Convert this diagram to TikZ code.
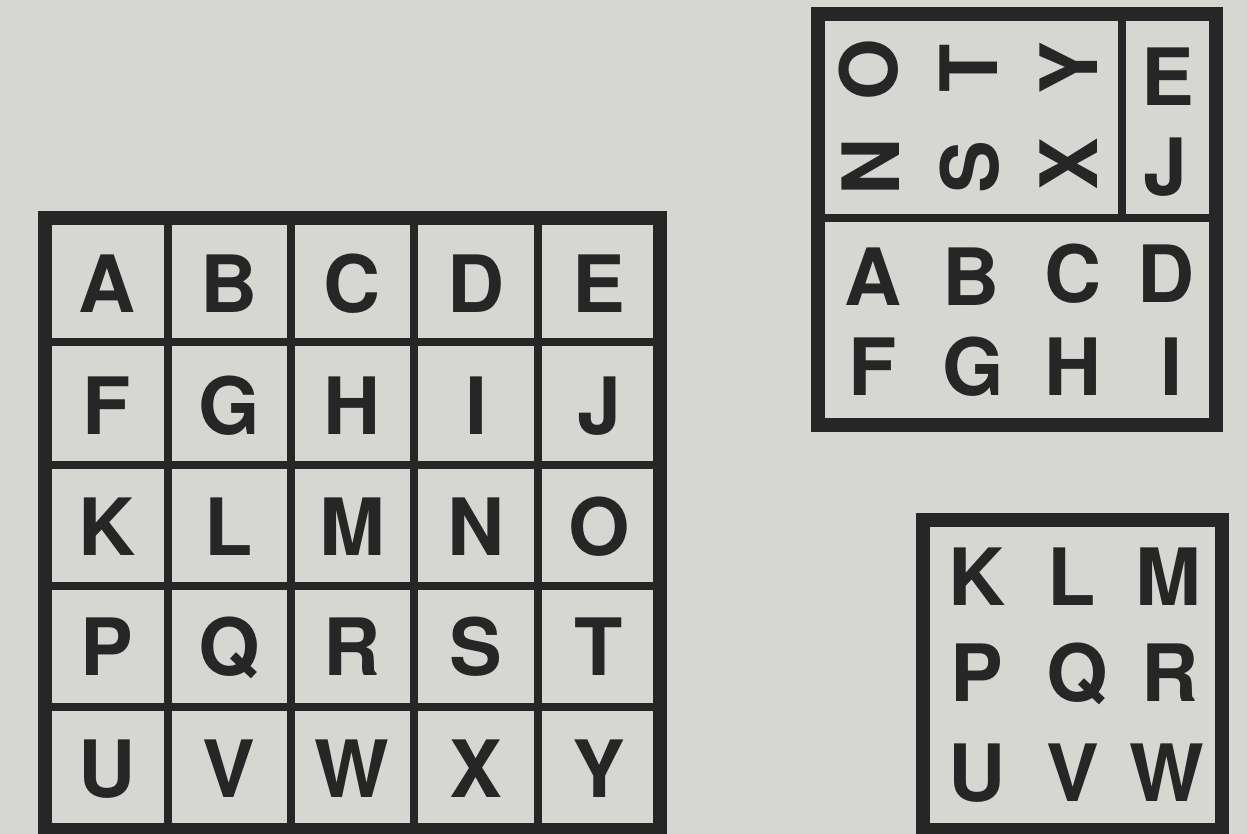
\documentclass[tikz,border=0pt]{standalone}
\usepackage{fontspec}
\setsansfont{TeX Gyre Heros}
\definecolor{paper}{RGB}{214,214,211}
\definecolor{ink}{RGB}{38,38,38}

\begin{document}
\begin{tikzpicture}[
  x=0.02cm, y=-0.02cm,
  every node/.style={font=\sffamily\bfseries\fontsize{45}{45}\selectfont,
    text=ink, inner sep=0pt, text height=32.3pt, text depth=0pt},
  frame/.style={draw=ink, line width=7.5pt},
  rule/.style={draw=ink, line width=5pt},
  turned/.style={rotate=90}
]

% Paper
\fill[paper] (0,0) rectangle (1247,834);
\useasboundingbox (0,0) rectangle (1247,834);

% Full square, 5 x 5
\draw[rule] (168,218) -- (168,830);
\draw[rule] (291,218) -- (291,830);
\draw[rule] (414,218) -- (414,830);
\draw[rule] (538,218) -- (538,830);
\draw[rule] (45,342) -- (660,342);
\draw[rule] (45,465) -- (660,465);
\draw[rule] (45,586) -- (660,586);
\draw[rule] (45,707) -- (660,707);
\draw[frame] (45,218) rectangle (660,830);

\node (gA) at (107,284) {A}; \node (gB) at (229,284) {B}; \node (gC) at (352,284) {C}; \node (gD) at (476,284) {D}; \node (gE) at (599,284) {E};
\node (gF) at (107,406) {F}; \node (gG) at (229,406) {G}; \node (gH) at (352,406) {H}; \node (gI) at (476,406) {I}; \node (gJ) at (599,406) {J};
\node (gK) at (107,527) {K}; \node (gL) at (229,527) {L}; \node (gM) at (352,527) {M}; \node (gN) at (476,527) {N}; \node (gO) at (599,527) {O};
\node (gP) at (107,647) {P}; \node (gQ) at (229,647) {Q}; \node (gR) at (352,647) {R}; \node (gS) at (476,647) {S}; \node (gT) at (599,647) {T};
\node (gU) at (107,769) {U}; \node (gV) at (229,769) {V}; \node (gW) at (352,769) {W}; \node (gX) at (476,769) {X}; \node (gY) at (599,769) {Y};

% Folded piece, top right
\draw[rule] (818,218) -- (1216,218);
\draw[rule] (1122,14) -- (1122,218);
\draw[frame] (818,14) rectangle (1216,425);

\node[turned] (fO) at (869,70) {O}; \node[turned] (fT) at (969,68) {T}; \node[turned] (fY) at (1069,68) {Y};
\node[turned] (fN) at (871,167) {N}; \node[turned] (fS) at (970,167) {S}; \node[turned] (fX) at (1069,164) {X};
\node (fE) at (1168,77) {E};
\node (fJ) at (1165,167) {J};
\node (fA) at (873,277) {A}; \node (fB) at (971,277) {B}; \node (fC) at (1073,274) {C}; \node (fD) at (1166,274) {D};
\node (fF) at (873,367) {F}; \node (fG) at (973,367) {G}; \node (fH) at (1073,367) {H}; \node (fI) at (1171,367) {I};

% Remaining piece, bottom right
\draw[frame] (923,520) rectangle (1222,830);

\node (rK) at (977,577) {K}; \node (rL) at (1072,577) {L}; \node (rM) at (1168,577) {M};
\node (rP) at (977,673) {P}; \node (rQ) at (1077,673) {Q}; \node (rR) at (1170,673) {R};
\node (rU) at (977,773) {U}; \node (rV) at (1073,773) {V}; \node (rW) at (1167,773) {W};

\end{tikzpicture}
\end{document}
